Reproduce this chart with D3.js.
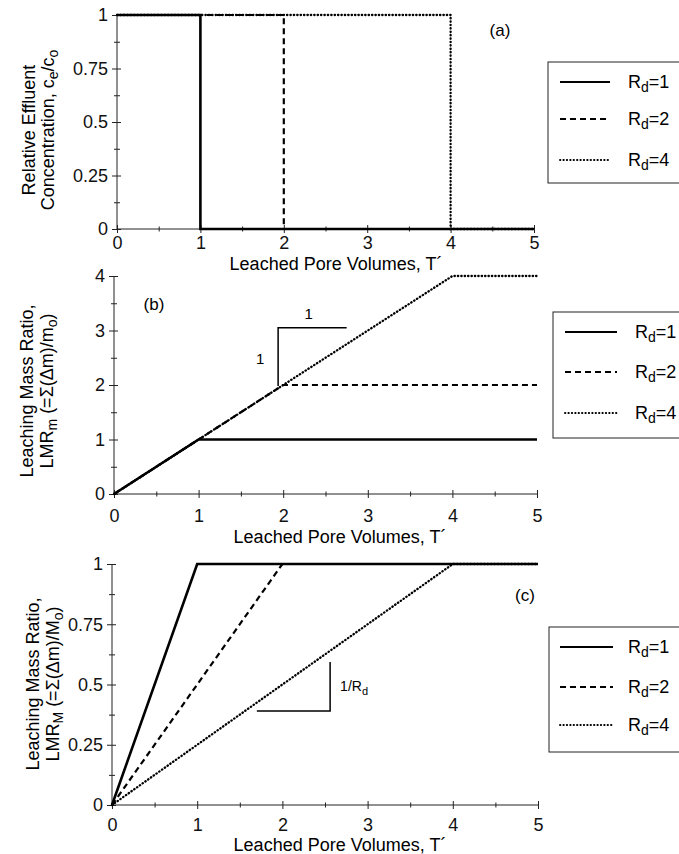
<!DOCTYPE html>
<html>
<head>
<meta charset="utf-8">
<script src="https://cdn.jsdelivr.net/npm/d3@7"></script>
<style>
  body { margin: 0; background: #fff; }
  svg { display: block; font-family: "Liberation Sans", Arial, sans-serif; }
</style>
</head>
<body>
<div id="chart"></div>
<script>
// tick values shared by all three panels
var xTicks = [0, 1, 2, 3, 4, 5];
var xMinor = [0.5, 1.5, 2.5, 3.5, 4.5];
var yTicksFrac = [0, 0.25, 0.5, 0.75, 1];
var yMinorFrac = [0.125, 0.375, 0.625, 0.875];
var yTicksB = [0, 1, 2, 3, 4];
var yMinorB = [0.5, 1.5, 2.5, 3.5];

var rdValues = ["1", "2", "4"];

// (a) relative effluent concentration, [T', ce/co]
var concRd1 = [[0, 1], [1, 1], [1, 0], [5, 0]];
var concRd2 = [[0, 1], [2, 1], [2, 0], [5, 0]];
var concRd4 = [[0, 1], [4, 1], [4, 0], [5, 0]];

// (b) LMRm, [T', sum(dm)/mo]
var lmrmRd1 = [[0, 0], [1, 1], [5, 1]];
var lmrmRd2 = [[0, 0], [2, 2], [5, 2]];
var lmrmRd4 = [[0, 0], [4, 4], [5, 4]];

// (c) LMRM, [T', sum(dm)/Mo]
var lmrMRd1 = [[0, 0], [1, 1], [5, 1]];
var lmrMRd2 = [[0, 0], [2, 1], [5, 1]];
var lmrMRd4 = [[0, 0], [4, 1], [5, 1]];

// slope triangles, data space
var slopeB = [[1.94, 1.98], [1.94, 3.05], [2.75, 3.05]];
var slopeC = [[1.70, 0.39], [2.56, 0.39], [2.56, 0.593]];

var W = 679, H = 854;
var svg = d3.select("#chart").append("svg")
    .attr("width", W)
    .attr("height", H);

svg.append("rect").attr("width", W).attr("height", H).attr("fill", "#fff");

// dash styles per Rd (index matches rdValues). dotted uses round caps so the dots stay dark
var styles = [
    { width: 2.6, dash: null, cap: "butt" },
    { width: 2.2, dash: "6,4", cap: "butt" },
    { width: 2.3, dash: "0.4,3", cap: "round" }
];

// text with subscripts. parts = [[string, isSub], ...]
function richText(sel, parts, subSize) {
    var shifted = false;
    parts.forEach(function (p) {
        var t = sel.append("tspan").text(p[0]);
        if (p[1] && !shifted) { t.attr("dy", 4).style("font-size", subSize + "px"); shifted = true; }
        else if (p[1]) { t.style("font-size", subSize + "px"); }
        else if (shifted) { t.attr("dy", -4); shifted = false; }
    });
    return sel;
}

function drawPanel(cfg) {
    var g = svg.append("g");
    var x = d3.scaleLinear().domain([0, 5]).range([cfg.x0, cfg.x1]);
    var y = d3.scaleLinear().domain(cfg.yDomain).range([cfg.yb, cfg.yt]);

    // axes: major ticks cross the axis line, so draw both sides
    g.append("g")
        .attr("transform", "translate(" + cfg.x0 + ",0)")
        .call(d3.axisLeft(y).tickValues(cfg.yTicks).tickSize(5).tickPadding(4).tickFormat(function (d) { return d; }))
        .call(function (a) { a.selectAll("text").style("font-size", "18px").attr("fill", "#111"); });
    g.append("g")
        .attr("transform", "translate(" + cfg.x0 + ",0)")
        .call(d3.axisRight(y).tickValues(cfg.yTicks).tickSize(4).tickFormat(""));
    g.append("g")
        .attr("transform", "translate(" + cfg.x0 + ",0)")
        .call(d3.axisLeft(y).tickValues(cfg.yMinor).tickSize(3).tickFormat(""));
    g.append("g")
        .attr("transform", "translate(" + cfg.x0 + ",0)")
        .call(d3.axisRight(y).tickValues(cfg.yMinor).tickSize(3).tickFormat(""));

    g.append("g")
        .attr("transform", "translate(0," + cfg.yb + ")")
        .call(d3.axisBottom(x).tickValues(xTicks).tickSize(4).tickPadding(cfg.xPad).tickFormat(d3.format("d")))
        .call(function (a) { a.selectAll("text").style("font-size", "18px").attr("fill", "#111"); });
    g.append("g")
        .attr("transform", "translate(0," + cfg.yb + ")")
        .call(d3.axisTop(x).tickValues(xTicks).tickSize(4).tickFormat(""));
    g.append("g")
        .attr("transform", "translate(0," + cfg.yb + ")")
        .call(d3.axisBottom(x).tickValues(xMinor).tickSize(2.5).tickFormat(""));
    g.append("g")
        .attr("transform", "translate(0," + cfg.yb + ")")
        .call(d3.axisTop(x).tickValues(xMinor).tickSize(2.5).tickFormat(""));

    g.selectAll(".tick line").attr("stroke", "#222");
    // plain axis lines without end caps
    g.selectAll(".domain").remove();
    g.append("line").attr("x1", cfg.x0).attr("x2", cfg.x0).attr("y1", y(cfg.yDomain[0])).attr("y2", y(cfg.yDomain[1])).attr("stroke", "#222");
    g.append("line").attr("x1", x(0)).attr("x2", x(5)).attr("y1", cfg.yb).attr("y2", cfg.yb).attr("stroke", "#222");

    // series, dotted first so solid sits on top
    var line = d3.line().x(function (d) { return x(d[0]); }).y(function (d) { return y(d[1]); });
    [2, 1, 0].forEach(function (i) {
        g.append("path")
            .datum(cfg.series[i])
            .attr("d", line)
            .attr("fill", "none")
            .attr("stroke", "#000")
            .attr("stroke-width", styles[i].width)
            .attr("stroke-linecap", styles[i].cap)
            .attr("stroke-dasharray", styles[i].dash);
    });

    if (cfg.slope) {
        g.append("path")
            .datum(cfg.slope)
            .attr("d", line)
            .attr("fill", "none")
            .attr("stroke", "#000")
            .attr("stroke-width", 1.5);
    }

    // x axis title
    g.append("text")
        .attr("x", cfg.titleX)
        .attr("y", cfg.titleY)
        .attr("text-anchor", "middle")
        .style("font-size", "18px")
        .text("Leached Pore Volumes, T\u00b4");

    // y axis title, two rotated lines
    cfg.yLabel.forEach(function (parts, i) {
        var t = g.append("text")
            .attr("transform", "translate(" + cfg.yLabX[i] + "," + cfg.yLabY + ") rotate(-90)")
            .attr("text-anchor", "middle")
            .attr("dy", "0.35em")
            .style("font-size", "18px");
        richText(t, parts, 14);
    });

    // panel tag
    g.append("text")
        .attr("x", cfg.tag[0])
        .attr("y", cfg.tag[1])
        .attr("text-anchor", "middle")
        .style("font-size", "17px")
        .text(cfg.tagText);

    // legend box, runs off the right edge like the original
    var lg = g.append("g").attr("transform", "translate(" + cfg.leg.x + "," + cfg.leg.y + ")");
    lg.append("rect")
        .attr("width", 150).attr("height", cfg.leg.h)
        .attr("fill", "none").attr("stroke", "#222").attr("stroke-width", 1);
    rdValues.forEach(function (rd, i) {
        var ly = cfg.leg.rows[i];
        lg.append("line")
            .attr("x1", cfg.leg.l1).attr("x2", cfg.leg.l2)
            .attr("y1", ly).attr("y2", ly)
            .attr("stroke", "#000")
            .attr("stroke-width", styles[i].width - 0.4)
            .attr("stroke-linecap", styles[i].cap)
            .attr("stroke-dasharray", styles[i].dash);
        var t = lg.append("text")
            .attr("x", cfg.leg.tx).attr("y", ly + 6)
            .style("font-size", "18px");
        richText(t, [["R", false], ["d", true], ["=" + rd, false]], 14);
    });

    return { x: x, y: y, g: g };
}

// (a)
drawPanel({
    x0: 117, x1: 534, yt: 15, yb: 229, yDomain: [0, 1],
    yTicks: yTicksFrac, yMinor: yMinorFrac, xPad: 3,
    series: [concRd1, concRd2, concRd4],
    titleX: 336, titleY: 270,
    yLabel: [[["Relative Effluent", false]],
             [["Concentration, c", false], ["e", true], ["/c", false], ["o", true]]],
    yLabX: [29, 48], yLabY: 130,
    tag: [500, 36], tagText: "(a)",
    leg: { x: 548, y: 62, h: 121, rows: [20, 57, 98], l1: 12, l2: 62, tx: 80 }
});

// (b)
var pb = drawPanel({
    x0: 114, x1: 537, yt: 276, yb: 494, yDomain: [0, 4],
    yTicks: yTicksB, yMinor: yMinorB, xPad: 11,
    series: [lmrmRd1, lmrmRd2, lmrmRd4],
    slope: slopeB,
    titleX: 340, titleY: 543,
    yLabel: [[["Leaching Mass Ratio,", false]],
             [["LMR", false], ["m", true], [" (=\u03a3(\u0394m)/m", false], ["o", true], [")", false]]],
    yLabX: [27, 47], yLabY: 391,
    tag: [154, 310], tagText: "(b)",
    leg: { x: 553, y: 312, h: 126, rows: [20, 60, 101], l1: 12, l2: 64, tx: 82 }
});
pb.g.append("text").attr("x", pb.x(2.3)).attr("y", pb.y(3.05) - 9)
    .attr("text-anchor", "middle").style("font-size", "15px").text("1");
pb.g.append("text").attr("x", pb.x(1.94) - 18).attr("y", pb.y(2.5) + 6)
    .attr("text-anchor", "middle").style("font-size", "15px").text("1");

// (c)
var pc = drawPanel({
    x0: 112, x1: 538, yt: 564, yb: 805, yDomain: [0, 1],
    yTicks: yTicksFrac, yMinor: yMinorFrac, xPad: 9,
    series: [lmrMRd1, lmrMRd2, lmrMRd4],
    slope: slopeC,
    titleX: 340, titleY: 851,
    yLabel: [[["Leaching Mass Ratio,", false]],
             [["LMR", false], ["M", true], [" (=\u03a3(\u0394m)/M", false], ["o", true], [")", false]]],
    yLabX: [33, 53], yLabY: 684,
    tag: [525, 601], tagText: "(c)",
    leg: { x: 549, y: 627, h: 125, rows: [20, 60, 98], l1: 11, l2: 64, tx: 79 }
});
var rdLab = pc.g.append("text").attr("x", pc.x(2.56) + 10).attr("y", pc.y(0.49) + 4)
    .style("font-size", "14px");
richText(rdLab, [["1/R", false], ["d", true]], 11);
</script>
</body>
</html>
